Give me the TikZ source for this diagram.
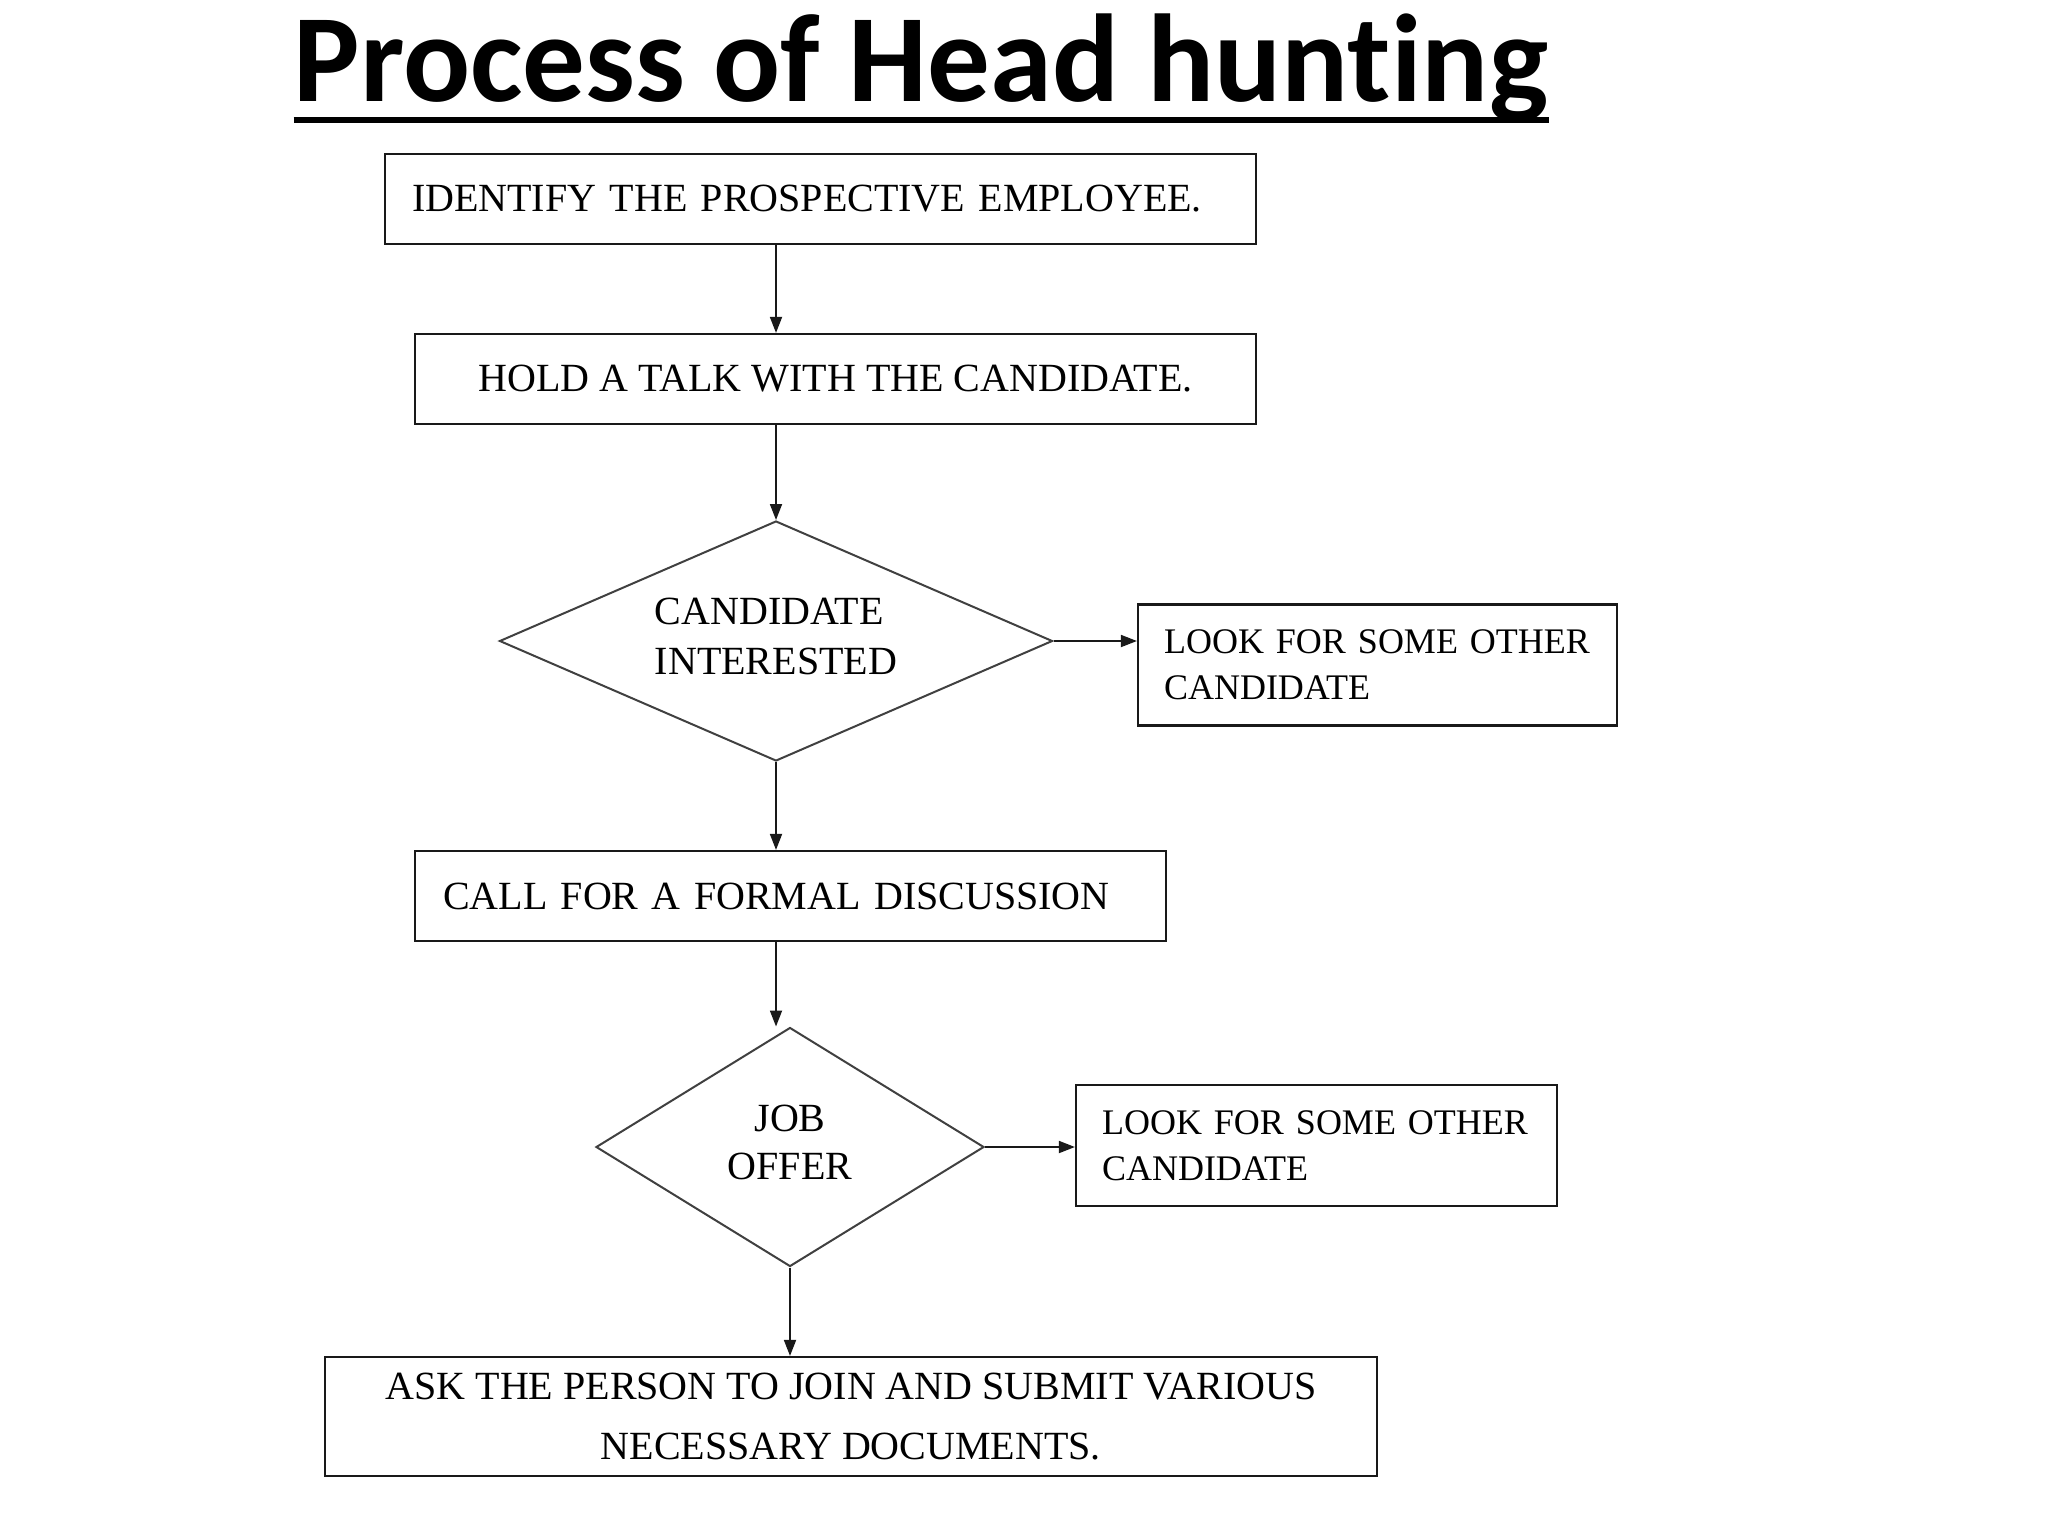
\documentclass[tikz,border=0pt]{standalone}
\usepackage{fontspec}
\setmainfont{Liberation Serif}
\newfontfamily\headfont[Ligatures=NoCommon]{Carlito}
\usetikzlibrary{shapes.geometric, arrows.meta}

\begin{document}
\begin{tikzpicture}[x=0.5pt, y=-0.5pt,
    stepbox/.style={draw=black!90, line width=1.1pt, inner sep=0pt, minimum height=45pt,
        font=\fontsize{20}{25}\selectfont},
    altbox/.style={draw=black!90, line width=1.1pt, inner xsep=13pt, inner ysep=0pt,
        minimum height=60.5pt, align=left, font=\fontsize{18}{23}\selectfont},
    choice/.style={diamond, draw=black!75, line width=1pt, inner sep=0pt},
    flow/.style={draw=black!90, line width=0.9pt, -{Triangle[length=8pt,width=6pt]}}]

    \useasboundingbox (0,0) rectangle (2048,1536);

    % 1. Cim es alahuzas
    \node[inner sep=0pt, anchor=base, font=\headfont\bfseries\fontsize{62.5}{70}\selectfont]
        (title) at (921,102) {Process of Head hunting};
    \draw[line width=3pt] ([yshift=-9pt]title.base west) -- ([yshift=-9pt]title.base east);

    % 2. Lepesek (dobozok)
    \node[stepbox, minimum width=435.5pt, text width=408.5pt, inner xsep=13.5pt, align=left]
        (step-1) at (820.5,199) {IDENTIFY THE PROSPECTIVE EMPLOYEE.};
    \node[stepbox, minimum width=420.5pt]
        (step-2) at (835.5,379) {HOLD A TALK WITH THE CANDIDATE.};
    \node[stepbox, minimum width=375.5pt, text width=347.5pt, inner xsep=14pt, align=left]
        (step-3) at (790.5,896) {CALL FOR A FORMAL DISCUSSION};
    \node[stepbox, minimum width=526pt, minimum height=59.5pt, align=center,
        font=\fontsize{20}{30}\selectfont]
        (step-4) at (851,1416.5) {ASK THE PERSON TO JOIN AND SUBMIT VARIOUS\\NECESSARY DOCUMENTS.};

    % 3. Dontesek (rombuszok)
    \node[choice, aspect=2.3, minimum width=276.5pt, minimum height=120pt, align=left,
        font=\fontsize{20}{25}\selectfont]
        (dec-1) at (776,641) {CANDIDATE\\INTERESTED\\[-20pt]};
    \node[choice, aspect=1.62, minimum width=194pt, minimum height=119.5pt, align=center,
        font=\fontsize{20}{24}\selectfont]
        (dec-2) at (790,1147) {JOB\\OFFER\\[-19pt]};

    % 4. Mellekagak
    \node[altbox, minimum width=239.5pt, text width=213.5pt]
        (alt-1) at (1377.5,665) {LOOK FOR SOME OTHER\\CANDIDATE};
    \node[altbox, minimum width=240.5pt, text width=214.5pt]
        (alt-2) at (1316.5,1145.5) {LOOK FOR SOME OTHER\\CANDIDATE};

    % 5. Nyilak
    \draw[flow] (step-1.south -| dec-1.north) -- (step-2.north -| dec-1.north);
    \draw[flow] (step-2.south -| dec-1.north) -- (dec-1.north);
    \draw[flow] (dec-1.south) -- (step-3.north -| dec-1.south);
    \draw[flow] (step-3.south -| dec-1.south) -- (dec-2.north -| dec-1.south);
    \draw[flow] (dec-2.south) -- (step-4.north -| dec-2.south);
    \draw[flow] (dec-1.east) -- (dec-1.east -| alt-1.west);
    \draw[flow] (dec-2.east) -- (dec-2.east -| alt-2.west);
\end{tikzpicture}
\end{document}
